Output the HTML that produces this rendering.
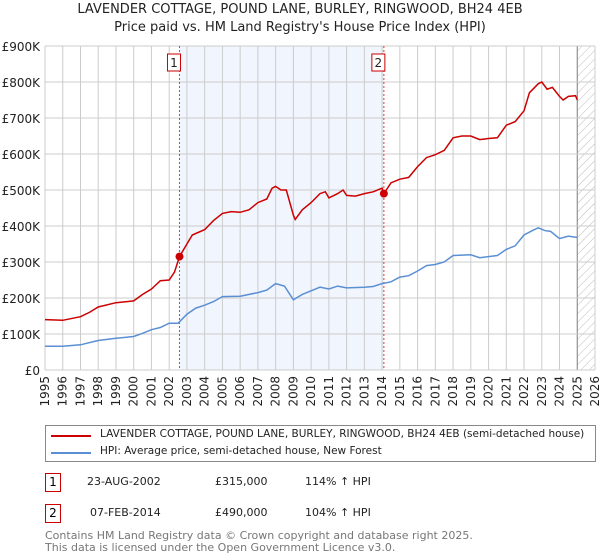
<!DOCTYPE html>
<html><head><meta charset="utf-8"><style>
body{margin:0;background:#fff;font-family:"DejaVu Sans","Liberation Sans",sans-serif;}
#wrap{position:relative;width:600px;height:560px;overflow:hidden}
.t{position:absolute;font-size:12px;color:#222;white-space:nowrap}
.box{position:absolute;border:1px solid #c00;width:14px;height:17px;text-align:center;font-size:12px;line-height:17px;background:#fff}
</style></head><body><div id="wrap">
<div class="t" style="left:0;width:600px;text-align:center;top:2px;font-size:13px">LAVENDER COTTAGE, POUND LANE, BURLEY, RINGWOOD, BH24 4EB</div>
<div class="t" style="left:0;width:600px;text-align:center;top:20px;font-size:13px">Price paid vs. HM Land Registry's House Price Index (HPI)</div>
<svg id="chart" width="600" height="420" style="position:absolute;left:0;top:0"></svg>
<div style="position:absolute;left:45px;top:425px;width:549px;height:35px;border:1px solid #888;"></div>
<div style="position:absolute;left:51px;top:435px;width:40px;height:2px;background:#c00"></div>
<div class="t" style="left:100px;top:428px;font-size:10.5px">LAVENDER COTTAGE, POUND LANE, BURLEY, RINGWOOD, BH24 4EB (semi-detached house)</div>
<div style="position:absolute;left:51px;top:452px;width:40px;height:2px;background:#5b8fd4"></div>
<div class="t" style="left:100px;top:445px;font-size:10.5px">HPI: Average price, semi-detached house, New Forest</div>
<div class="box" style="left:45px;top:473px">1</div>
<div class="t" style="left:87px;top:475px;font-size:11px">23-AUG-2002</div>
<div class="t" style="left:215px;top:475px;font-size:11px">£315,000</div>
<div class="t" style="left:305px;top:475px;font-size:11px">114% ↑ HPI</div>
<div class="box" style="left:45px;top:504px">2</div>
<div class="t" style="left:90px;top:506px;font-size:11px">07-FEB-2014</div>
<div class="t" style="left:215px;top:506px;font-size:11px">£490,000</div>
<div class="t" style="left:305px;top:506px;font-size:11px">104% ↑ HPI</div>
<div class="t" style="left:45px;top:530px;font-size:11px;color:#777;line-height:12px">Contains HM Land Registry data © Crown copyright and database right 2025.<br>This data is licensed under the Open Government Licence v3.0.</div>
</div>
<script>
const redX=[1995,1996,1997,1997.5,1998,1999,2000,2000.5,2001,2001.5,2002,2002.3,2002.58,2003,2003.3,2004,2004.5,2005,2005.5,2006,2006.5,2007,2007.5,2007.8,2008,2008.3,2008.6,2009,2009.1,2009.5,2010,2010.5,2010.8,2011,2011.5,2011.8,2012,2012.5,2013,2013.5,2014,2014.1,2014.5,2015,2015.5,2016,2016.5,2017,2017.5,2018,2018.5,2019,2019.5,2020,2020.5,2021,2021.5,2022,2022.3,2022.8,2023,2023.3,2023.6,2024,2024.2,2024.5,2024.9,2025];
const redY=[140,138,148,160,175,187,192,210,225,248,250,272,315,350,375,390,415,435,440,438,445,465,475,505,510,500,500,430,418,445,465,490,495,478,490,500,485,483,490,495,505,490,520,530,535,565,590,598,610,645,650,650,640,643,645,680,690,720,770,795,800,780,785,760,750,760,762,750];
const blueX=[1995,1996,1997,1998,1999,2000,2000.5,2001,2001.5,2002,2002.5,2003,2003.5,2004,2004.5,2005,2006,2007,2007.5,2008,2008.5,2009,2009.5,2010,2010.5,2011,2011.5,2012,2013,2013.5,2014,2014.5,2015,2015.5,2016,2016.5,2017,2017.5,2018,2019,2019.5,2020,2020.5,2021,2021.5,2022,2022.5,2022.8,2023.2,2023.5,2024,2024.5,2025];
const blueY=[66,66,70,82,88,93,102,112,118,130,130,155,172,180,190,204,205,215,222,240,233,195,210,220,230,225,233,228,230,232,240,245,258,262,275,290,293,300,318,320,312,315,318,335,345,375,388,395,387,385,365,372,368];
const saleX=[2002.58,2014.1];
const saleY=[315,490];
const saleLabels=["1","2"];
const yTicks=[0,100,200,300,400,500,600,700,800,900];
const yTickLabels=["£0","£100K","£200K","£300K","£400K","£500K","£600K","£700K","£800K","£900K"];
const years=[];for(let y=1995;y<=2026;y++)years.push(y);
const X=v=>45+(v-1995)*(550/31), Y=v=>370-v*(324/900);
const svg=document.getElementById('chart'),NS='http://www.w3.org/2000/svg';
function mk(t,a,p){const e=document.createElementNS(NS,t);for(const k in a)e.setAttribute(k,a[k]);(p||svg).appendChild(e);return e;}
let e;
e=mk('rect',{x:X(saleX[0]),y:Y(900),width:X(saleX[1])-X(saleX[0]),height:Y(0)-Y(900),fill:'#eef3fc',opacity:0.8});


const defs=mk('defs',{});const pat=mk('pattern',{id:'h',width:6,height:6,patternUnits:'userSpaceOnUse',patternTransform:'rotate(45)'},defs);mk('line',{x1:0,y1:0,x2:0,y2:6,stroke:'#bbb','stroke-width':1},pat);
e=mk('rect',{x:X(2025),y:Y(900),width:X(2026)-X(2025),height:Y(0)-Y(900),fill:'url(#h)'});


years.forEach(y=>{const l=mk('line',{x1:X(y),x2:X(y),y1:Y(900),y2:Y(0),stroke:'#ccc','stroke-width':1});


const t=mk('text',{x:0,y:0,'font-size':12,'text-anchor':'end',fill:'#222','font-family':'DejaVu Sans, sans-serif',transform:`translate(${X(y)+4},376) rotate(-90)`});t.textContent=y;

});
e=mk('line',{x1:X(2025),x2:X(2025),y1:Y(900),y2:Y(0),stroke:'#888','stroke-width':1});


yTicks.forEach((v,i)=>{const l=mk('line',{x1:X(1995),x2:X(2026),y1:Y(v),y2:Y(v),stroke:'#ccc','stroke-width':1});


const t=mk('text',{x:40,y:Y(v)+5,'font-size':12,'text-anchor':'end',fill:'#222','font-family':'DejaVu Sans, sans-serif'});t.textContent=yTickLabels[i];

});
saleX.forEach((s,i)=>{const l=mk('line',{x1:X(s),x2:X(s),y1:Y(900),y2:Y(0),stroke:'#e33','stroke-width':1,'stroke-dasharray':'2,2'});


const r=mk('rect',{x:X(s)-12,y:54,width:13,height:17,fill:'#fff',stroke:'#c00'});


const t=mk('text',{x:X(s)-5.5,y:67,'font-size':12,'text-anchor':'middle',fill:'#222','font-family':'DejaVu Sans, sans-serif'});t.textContent=saleLabels[i];

});
const pts=(xs,ys)=>xs.map((x,i)=>X(x).toFixed(1)+','+Y(ys[i]).toFixed(1)).join(' ');
e=mk('polyline',{points:pts(blueX,blueY),fill:'none',stroke:'#5b8fd4','stroke-width':1.5});


e=mk('polyline',{points:pts(redX,redY),fill:'none',stroke:'#c00','stroke-width':1.5});


saleX.forEach((s,i)=>{const c=mk('circle',{cx:X(s),cy:Y(saleY[i]),r:4,fill:'#c00'});

});
</script></body></html>
